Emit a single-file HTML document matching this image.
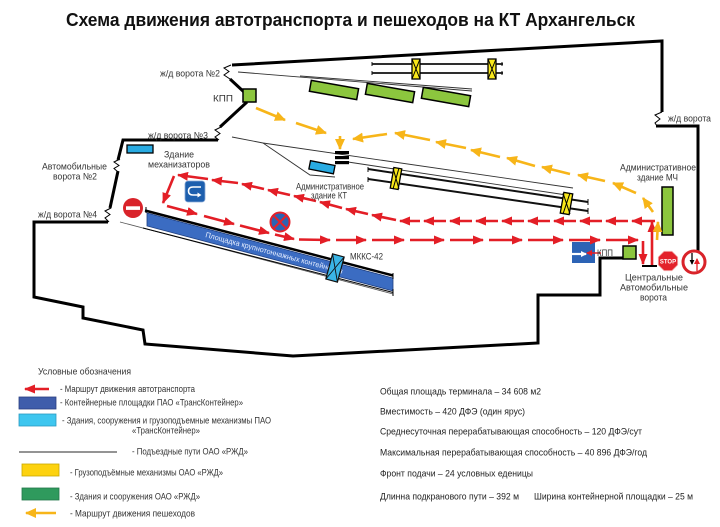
<!DOCTYPE html>
<html><head><meta charset="utf-8"><style>
html,body{margin:0;padding:0;background:#fff;}
svg{display:block;}
text{font-family:"Liberation Sans","DejaVu Sans",sans-serif;}
</style></head><body>
<svg width="720" height="527" viewBox="0 0 720 527" xmlns="http://www.w3.org/2000/svg">
<defs>
<marker id="ra" viewBox="0 0 11 9" refX="10" refY="4.5" markerWidth="11" markerHeight="9" markerUnits="userSpaceOnUse" orient="auto"><path d="M0,0 L11,4.5 L0,9 z" fill="#e31e26"/></marker>
<marker id="ya" viewBox="0 0 11 10" refX="10" refY="5" markerWidth="11" markerHeight="10" markerUnits="userSpaceOnUse" orient="auto"><path d="M0,0 L11,5 L0,10 z" fill="#f7b519"/></marker>
<marker id="rs" viewBox="0 0 6 6" refX="5" refY="3" markerWidth="6" markerHeight="6" markerUnits="userSpaceOnUse" orient="auto"><path d="M0,0 L6,3 L0,6 z" fill="#e31e26"/></marker>
<marker id="ws" viewBox="0 0 6 6" refX="5" refY="3" markerWidth="6" markerHeight="6" markerUnits="userSpaceOnUse" orient="auto"><path d="M0,0 L6,3 L0,6 z" fill="#fff"/></marker>
<marker id="bs" viewBox="0 0 6 6" refX="5" refY="3" markerWidth="5" markerHeight="5" markerUnits="userSpaceOnUse" orient="auto"><path d="M0,0 L6,3 L0,6 z" fill="#000"/></marker>
</defs>

<!-- Title -->
<text x="66" y="26" font-size="18.5" font-weight="bold" fill="#111" textLength="569" lengthAdjust="spacingAndGlyphs">Схема движения автотранспорта и пешеходов на КТ Архангельск</text>

<!-- Outline -->
<g fill="none" stroke="#000" stroke-width="3" stroke-linejoin="miter">
<path d="M232,65 L662,41 L662,112"/>
<path d="M656,126 L698,126 L698,251"/>
<path d="M230,79 L244,92"/>
<path d="M247,102 L220,127"/>
<path d="M218,140 L123,140 L118,160"/>
<path d="M118,171 L110,208"/>
<path d="M108,222 L34,222 L34,297 L83,307 L83,318 L143,330 L145,344 L293,356 L538,343 L538,295 L600,295 L600,258 L623,258"/>
</g>
<!-- gate zigzags -->
<g fill="none" stroke="#000" stroke-width="1">
<path d="M231,65 L224,68 L229,71.5 L224,75 L230,79"/>
<path d="M221,127 L215,130 L220,133.5 L215,137 L219,140"/>
<path d="M120,159 L114,162 L119,165.5 L114,168.5 L118,172"/>
<path d="M111,208 L105,211 L110,214.5 L105,218 L109,222"/>
<path d="M662,112 L655,115 L660,119 L655,123 L657,126"/>
</g>

<!-- KPP top -->
<rect x="243" y="89" width="13" height="13" fill="#8cc63e" stroke="#000" stroke-width="1.5"/>

<!-- top rails -->
<g stroke="#111">
<line x1="372" y1="64" x2="503" y2="64" stroke-width="1.8"/>
<line x1="372" y1="73" x2="503" y2="73" stroke-width="1.8"/>
<line x1="372" y1="62" x2="372" y2="66" stroke-width="1"/>
<line x1="372" y1="71" x2="372" y2="75" stroke-width="1"/>
<line x1="502" y1="62" x2="502" y2="66" stroke-width="1"/>
<line x1="502" y1="71" x2="502" y2="75" stroke-width="1"/>
</g>
<g stroke="#000" stroke-width="1">
<rect x="412" y="59" width="8" height="20" fill="#f9e81a" stroke-width="1.3"/>
<line x1="412" y1="59" x2="420" y2="79"/><line x1="420" y1="59" x2="412" y2="79"/>
<rect x="488" y="59" width="8" height="20" fill="#f9e81a" stroke-width="1.3"/>
<line x1="488" y1="59" x2="496" y2="79"/><line x1="496" y1="59" x2="488" y2="79"/>
</g>

<!-- thin lines above green buildings -->
<g stroke="#333" stroke-width="0.9" fill="none">
<line x1="238" y1="72" x2="472" y2="91"/>
<line x1="300" y1="76" x2="472" y2="89"/>
</g>
<!-- green buildings -->
<g fill="#8cc63e" stroke="#000" stroke-width="1.5">
<rect x="310" y="84.5" width="48" height="11" transform="rotate(10 334 90)"/>
<rect x="366" y="87.5" width="48" height="11" transform="rotate(10 390 93)"/>
<rect x="422" y="91.5" width="48" height="11" transform="rotate(10 446 97)"/>
</g>

<!-- middle rails -->
<g stroke="#333" stroke-width="0.9" fill="none">
<polyline points="232,137 263,143 573,188"/>
<polyline points="263,143 310,175 335,177"/>
<line x1="348" y1="162" x2="573" y2="196"/>
</g>
<g stroke="#111" stroke-width="2">
<line x1="368" y1="169" x2="588" y2="202"/>
<line x1="368" y1="179" x2="588" y2="211"/>
</g>
<g stroke="#111" stroke-width="1">
<line x1="368" y1="167" x2="368" y2="172"/><line x1="368" y1="177" x2="368" y2="182"/>
<line x1="588" y1="199" x2="588" y2="205"/><line x1="588" y1="208" x2="588" y2="214"/>
</g>
<g stroke="#000" stroke-width="1">
<rect x="392" y="168" width="8" height="21" fill="#f9e81a" stroke-width="1.3" transform="rotate(10 396 178.5)"/>
<line x1="393" y1="168" x2="399" y2="189"/><line x1="399" y1="168" x2="393" y2="189"/>
<rect x="562" y="193" width="9" height="21" fill="#f9e81a" stroke-width="1.3" transform="rotate(10 566.5 203.5)"/>
<line x1="563" y1="193" x2="570" y2="214"/><line x1="570" y1="193" x2="563" y2="214"/>
</g>
<!-- black bars -->
<g fill="#000">
<rect x="335" y="151" width="14" height="3.2"/>
<rect x="335" y="156" width="14" height="3.2"/>
<rect x="335" y="161" width="14" height="3.2"/>
</g>
<!-- blue buildings -->
<rect x="127" y="145" width="26" height="8" fill="#29abe2" stroke="#000" stroke-width="1.3"/>
<rect x="309.5" y="163" width="25" height="8.5" fill="#29abe2" stroke="#000" stroke-width="1.3" transform="rotate(11 322 167)"/>

<!-- container band -->
<line x1="120" y1="222" x2="393" y2="294" stroke="#555" stroke-width="0.8"/>
<polygon points="147,213 393,278 393,291 147,226" fill="#3b6cc2" stroke="#1f3f80" stroke-width="0.8"/>
<line x1="145" y1="210.5" x2="393" y2="275.5" stroke="#000" stroke-width="2.5"/>
<line x1="143" y1="228" x2="393" y2="292.5" stroke="#000" stroke-width="1"/>
<line x1="146" y1="207" x2="146" y2="213" stroke="#000" stroke-width="1"/>
<line x1="393" y1="273" x2="393" y2="279" stroke="#000" stroke-width="1"/>
<line x1="393" y1="289" x2="393" y2="296" stroke="#000" stroke-width="1"/>
<text x="205" y="237" font-size="7.6" fill="#e4edff" transform="rotate(15 205 237)" textLength="142" lengthAdjust="spacingAndGlyphs">Площадка крупнотоннажных контейнеров</text>
<!-- MKKS crane -->
<g transform="rotate(15 335 268)">
<rect x="329" y="255" width="12" height="26" fill="#3ab5e6" stroke="#111" stroke-width="1.2"/>
<line x1="329" y1="255" x2="341" y2="281" stroke="#111" stroke-width="0.9"/>
<line x1="341" y1="255" x2="329" y2="281" stroke="#111" stroke-width="0.9"/>
</g>

<!-- MCh building -->
<rect x="662" y="187" width="11" height="48" fill="#8cc63e" stroke="#000" stroke-width="1.5"/>
<!-- KPP bottom -->
<rect x="623" y="246" width="13" height="13" fill="#8cc63e" stroke="#000" stroke-width="1.5"/>

<!-- signs -->
<circle cx="133" cy="208" r="10" fill="#d9232a"/>
<rect x="126" y="206.3" width="14" height="3.6" fill="#fff"/>

<rect x="185" y="181" width="20" height="21" rx="3" fill="#1d5fae" stroke="#8aaad6" stroke-width="0.8"/>
<path d="M201,187 L193,187 Q188.5,187 188.5,191 Q188.5,195 193,195 L198,195" fill="none" stroke="#fff" stroke-width="1.6"/>
<polygon points="197.5,192.5 201.5,195 197.5,197.5" fill="#fff"/>

<circle cx="280" cy="222" r="9.5" fill="#2a63b4" stroke="#e3222b" stroke-width="2"/>
<line x1="274" y1="216" x2="286" y2="228" stroke="#e3222b" stroke-width="2"/>
<line x1="286" y1="216" x2="274" y2="228" stroke="#e3222b" stroke-width="2"/>

<rect x="572" y="242" width="23" height="21" fill="#2c63b5"/>
<line x1="572" y1="254" x2="586" y2="254" stroke="#fff" stroke-width="2.2" marker-end="url(#ws)"/>
<line x1="601" y1="253" x2="587" y2="253" stroke="#e31e26" stroke-width="1.5" marker-end="url(#rs)"/>

<polygon points="677.7,265 672,270.7 664,270.7 658.3,265 658.3,257 664,251.3 672,251.3 677.7,257" fill="#e3222b" stroke="#f5b5b5" stroke-width="0.8"/>
<text x="668" y="263.3" font-size="6" font-weight="bold" fill="#fff" text-anchor="middle">STOP</text>

<circle cx="694" cy="262" r="11" fill="#fff" stroke="#d9232a" stroke-width="3"/>
<line x1="692" y1="253" x2="692" y2="264" stroke="#000" stroke-width="1.3" marker-end="url(#bs)"/>
<line x1="697" y1="271" x2="697" y2="259" stroke="#e31e26" stroke-width="1.3" marker-end="url(#rs)"/>

<!-- gate lines -->
<line x1="642" y1="266" x2="657" y2="266" stroke="#000" stroke-width="2"/>

<!-- Red route -->
<g stroke="#e31e26" stroke-width="2.6" marker-end="url(#ra)">
<line x1="167" y1="206" x2="197" y2="214"/>
<line x1="204" y1="216" x2="234" y2="224"/>
<line x1="240" y1="225.5" x2="269" y2="233"/>
<line x1="275" y1="234.5" x2="294" y2="239"/>
<line x1="299" y1="239.5" x2="330" y2="240"/>
<line x1="336" y1="240" x2="366" y2="240"/>
<line x1="372" y1="240" x2="404" y2="240"/>
<line x1="410" y1="240" x2="444" y2="240"/>
<line x1="450" y1="240" x2="483" y2="240"/>
<line x1="489" y1="240" x2="522" y2="240"/>
<line x1="528" y1="240" x2="563" y2="240"/>
<line x1="569" y1="240" x2="600" y2="240"/>
<line x1="606" y1="240" x2="638" y2="240"/>

<line x1="655" y1="221" x2="632" y2="221"/>
<line x1="628" y1="221" x2="606" y2="221"/>
<line x1="602" y1="221" x2="580" y2="221"/>
<line x1="576" y1="221" x2="554" y2="221"/>
<line x1="550" y1="221" x2="528" y2="221"/>
<line x1="524" y1="221" x2="502" y2="221"/>
<line x1="498" y1="221" x2="476" y2="221"/>
<line x1="472" y1="221" x2="450" y2="221"/>
<line x1="446" y1="221" x2="424" y2="221"/>
<line x1="420" y1="221" x2="400" y2="221"/>
<line x1="396" y1="220" x2="372" y2="215"/>
<line x1="368" y1="214" x2="346" y2="209"/>
<line x1="342" y1="208" x2="320" y2="202"/>
<line x1="316" y1="201" x2="294" y2="196"/>
<line x1="290" y1="195" x2="268" y2="190"/>
<line x1="264" y1="189" x2="242" y2="184"/>
<line x1="238" y1="183" x2="212" y2="180"/>
<line x1="208" y1="179" x2="178" y2="175"/>
<line x1="174" y1="176" x2="163" y2="203"/>

<line x1="643" y1="241" x2="643" y2="264"/>
<line x1="652" y1="265" x2="652" y2="222"/>
</g>

<!-- Yellow route -->
<g stroke="#f7b519" stroke-width="2.6" marker-end="url(#ya)">
<line x1="256" y1="108" x2="285" y2="120"/>
<line x1="296" y1="123" x2="326" y2="133"/>
<line x1="340" y1="136" x2="340" y2="149"/>
<line x1="387" y1="134" x2="353" y2="139"/>
<line x1="430" y1="140" x2="395" y2="133"/>
<line x1="466" y1="148" x2="436" y2="142"/>
<line x1="500" y1="157" x2="471" y2="150"/>
<line x1="535" y1="166" x2="507" y2="158"/>
<line x1="570" y1="174" x2="542" y2="167"/>
<line x1="605" y1="181" x2="578" y2="175"/>
<line x1="636" y1="193" x2="613" y2="183"/>
<line x1="653" y1="212" x2="643" y2="198"/>
<line x1="657" y1="240" x2="658" y2="222"/>
</g>

<!-- Diagram labels -->
<g font-size="9.5" fill="#333">
<text x="160" y="76.5" textLength="60" lengthAdjust="spacingAndGlyphs">ж/д ворота №2</text>
<text x="213" y="101.5" textLength="20" lengthAdjust="spacingAndGlyphs">КПП</text>
<text x="148" y="138.5" textLength="60" lengthAdjust="spacingAndGlyphs">ж/д ворота №3</text>
<text x="164" y="157.5" textLength="30" lengthAdjust="spacingAndGlyphs">Здание</text>
<text x="148" y="167.5" textLength="62" lengthAdjust="spacingAndGlyphs">механизаторов</text>
<text x="42" y="169.5" textLength="65" lengthAdjust="spacingAndGlyphs">Автомобильные</text>
<text x="53" y="179.5" textLength="44" lengthAdjust="spacingAndGlyphs">ворота №2</text>
<text x="38" y="217.5" textLength="59" lengthAdjust="spacingAndGlyphs">ж/д ворота №4</text>
<text x="296" y="189.5" textLength="68" lengthAdjust="spacingAndGlyphs">Административное</text>
<text x="311" y="198.5" textLength="36" lengthAdjust="spacingAndGlyphs">здание КТ</text>
<text x="350" y="259.5" textLength="33" lengthAdjust="spacingAndGlyphs">МККС-42</text>
<text x="597" y="256" textLength="16" lengthAdjust="spacingAndGlyphs">КПП</text>
<text x="620" y="170.5" textLength="76" lengthAdjust="spacingAndGlyphs">Административное</text>
<text x="637" y="180.5" textLength="41" lengthAdjust="spacingAndGlyphs">здание МЧ</text>
<text x="668" y="121.5" textLength="43" lengthAdjust="spacingAndGlyphs">ж/д ворота</text>
<text x="625" y="280.5" textLength="58" lengthAdjust="spacingAndGlyphs">Центральные</text>
<text x="620" y="290.5" textLength="68" lengthAdjust="spacingAndGlyphs">Автомобильные</text>
<text x="640" y="300.5" textLength="27" lengthAdjust="spacingAndGlyphs">ворота</text>
</g>

<!-- Legend -->
<text x="38" y="374.5" font-size="9.2" fill="#333" textLength="93" lengthAdjust="spacingAndGlyphs">Условные обозначения</text>
<line x1="49" y1="389" x2="25" y2="389" stroke="#e31e26" stroke-width="2.6" marker-end="url(#ra)"/>
<rect x="19" y="397" width="37" height="12" fill="#3f5dab" stroke="#2a3f80" stroke-width="0.8"/>
<rect x="19" y="414" width="37" height="12" fill="#3ec6ef" stroke="#2a9ac0" stroke-width="0.8"/>
<line x1="19" y1="452" x2="117" y2="452" stroke="#555" stroke-width="1.2"/>
<rect x="22" y="464" width="37" height="12" fill="#fdd20f" stroke="#c9a800" stroke-width="0.8"/>
<rect x="22" y="488" width="37" height="12" fill="#2f9a5d" stroke="#22774a" stroke-width="0.8"/>
<line x1="56" y1="513" x2="26" y2="513" stroke="#f7b519" stroke-width="2.6" marker-end="url(#ya)"/>
<g font-size="9" fill="#333">
<text x="60" y="392.2" textLength="135" lengthAdjust="spacingAndGlyphs">- Маршрут движения автотранспорта</text>
<text x="60" y="405.7" textLength="183" lengthAdjust="spacingAndGlyphs">- Контейнерные площадки ПАО «ТрансКонтейнер»</text>
<text x="62" y="423.5" textLength="209" lengthAdjust="spacingAndGlyphs">- Здания, сооружения и грузоподъемные механизмы ПАО</text>
<text x="132" y="433.5" textLength="68" lengthAdjust="spacingAndGlyphs">«ТрансКонтейнер»</text>
<text x="132" y="454.5" textLength="116" lengthAdjust="spacingAndGlyphs">- Подъездные пути ОАО «РЖД»</text>
<text x="70" y="475.5" textLength="153" lengthAdjust="spacingAndGlyphs">- Грузоподъёмные механизмы ОАО «РЖД»</text>
<text x="70" y="499.5" textLength="130" lengthAdjust="spacingAndGlyphs">- Здания и сооружения ОАО «РЖД»</text>
<text x="70" y="516.5" textLength="125" lengthAdjust="spacingAndGlyphs">- Маршрут движения пешеходов</text>
</g>

<!-- Stats -->
<g font-size="9.2" fill="#222">
<text x="380" y="394.5" textLength="161" lengthAdjust="spacingAndGlyphs">Общая площадь терминала – 34 608 м2</text>
<text x="380" y="414.5" textLength="145" lengthAdjust="spacingAndGlyphs">Вместимость – 420 ДФЭ (один ярус)</text>
<text x="380" y="434.5" textLength="262" lengthAdjust="spacingAndGlyphs">Среднесуточная перерабатывающая способность – 120 ДФЭ/сут</text>
<text x="380" y="455.5" textLength="267" lengthAdjust="spacingAndGlyphs">Максимальная перерабатывающая способность – 40 896 ДФЭ/год</text>
<text x="380" y="476.5" textLength="153" lengthAdjust="spacingAndGlyphs">Фронт подачи – 24 условных еденицы</text>
<text x="380" y="499.5" textLength="139" lengthAdjust="spacingAndGlyphs">Длинна подкранового пути – 392 м</text>
<text x="534" y="499.5" textLength="159" lengthAdjust="spacingAndGlyphs">Ширина контейнерной площадки – 25 м</text>
</g>
</svg>
</body></html>
